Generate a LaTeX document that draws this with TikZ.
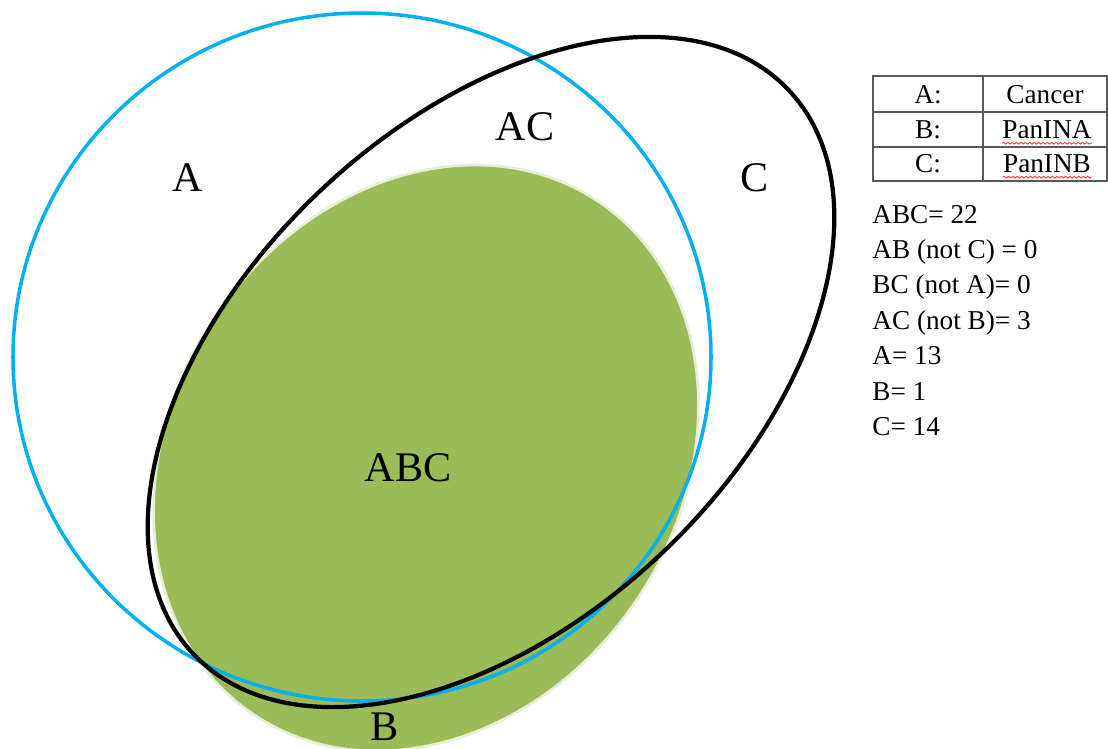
\documentclass[tikz,border=0pt]{standalone}
\usepackage{fontspec}
\setmainfont{Liberation Serif}
\usetikzlibrary{decorations.pathmorphing}
\definecolor{setA}{HTML}{00B0F0}
\definecolor{setB}{HTML}{9BBB59}

\begin{document}
\begin{tikzpicture}[x=0.02cm, y=0.02cm,
  lbl/.style={font=\fontsize{24}{28}\selectfont},
  txt/.style={font=\fontsize{15.5}{18}\selectfont, inner sep=0pt},
  grid/.style={draw=black!65, line width=1.4pt},
  squig/.style={red!80, line width=0.5pt, decorate,
    decoration={snake, amplitude=0.5pt, segment length=2.5pt}}]
\useasboundingbox (0,0) rectangle (1108,-748);

% sets
\filldraw[fill=setB, draw=setB!25, line width=1.5pt, rotate around={56:(426,-458)}]
  (426,-458) ellipse [x radius=309, y radius=254];
\draw[setA, line width=2pt] (362,-357) ellipse [x radius=349, y radius=344];
\draw[black, line width=2.4pt, rotate around={43.5:(491,-372)}]
  (491,-372) ellipse [x radius=410, y radius=249];

\node[lbl] (a) at (188,-178) {A};
\node[lbl] (ac) at (525,-127) {AC};
\node[lbl] (c) at (755,-178) {C};
\node[lbl] (abc) at (408,-468) {ABC};
\node[lbl] (b) at (385,-727) {B};

% legend table
\draw[grid] (873,-76) rectangle (1107,-181);
\draw[grid] (983,-76) -- (983,-181);
\draw[grid] (873,-112) -- (1107,-112);
\draw[grid] (873,-147) -- (1107,-147);

\node[txt] (ka) at (928,-95) {A:};
\node[txt] (kb) at (928,-130) {B:};
\node[txt] (kc) at (928,-164) {C:};
\node[txt] (na) at (1045,-95) {Cancer};
\node[txt] (nb) at (1047,-130) {PanINA};
\node[txt] (nc) at (1047,-164) {PanINB};
\draw[squig] ([yshift=-2.5pt]nb.base west) -- ([yshift=-2.5pt]nb.base east);
\draw[squig] ([yshift=-2.5pt]nc.base west) -- ([yshift=-2.5pt]nc.base east);

% counts
\node[txt, anchor=base west] (n1) at (872,-223) {ABC= 22};
\node[txt, anchor=base west] (n2) at (872,-258.4) {AB (not C) = 0};
\node[txt, anchor=base west] (n3) at (872,-293.8) {BC (not A)= 0};
\node[txt, anchor=base west] (n4) at (872,-329.2) {AC (not B)= 3};
\node[txt, anchor=base west] (n5) at (872,-364.6) {A= 13};
\node[txt, anchor=base west] (n6) at (872,-400) {B= 1};
\node[txt, anchor=base west] (n7) at (872,-435.4) {C= 14};
\end{tikzpicture}
\end{document}
